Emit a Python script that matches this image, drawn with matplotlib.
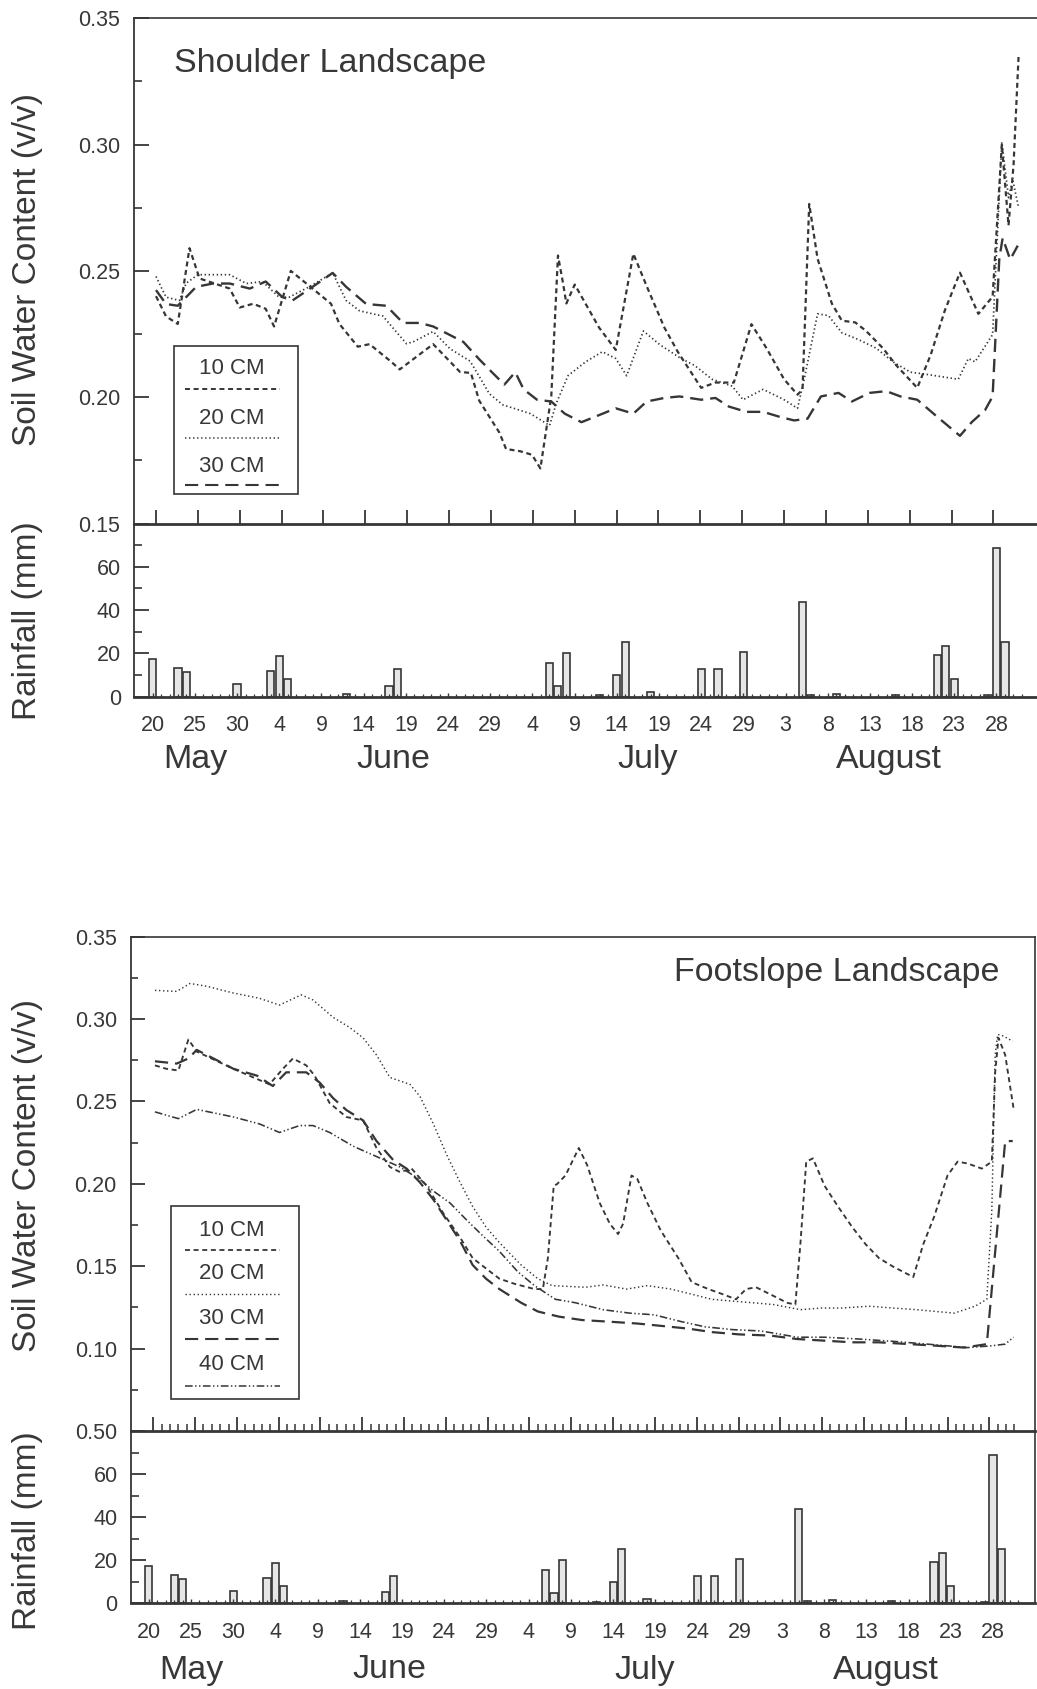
import matplotlib
matplotlib.use('Agg')
import matplotlib.pyplot as plt
import matplotlib.transforms as mtrans
from matplotlib.patches import Rectangle
from matplotlib.lines import Line2D
from matplotlib.ticker import FixedLocator, NullFormatter, FixedFormatter

plt.rcParams['font.family'] = ['Liberation Sans', 'DejaVu Sans']
plt.rcParams['lines.scale_dashes'] = False

# ---------------- data ----------------
# days since May 20
rain_days = [0, 3, 4, 10, 14, 15, 16, 23, 28, 29, 47, 48, 49, 53, 55, 56, 59,
             65, 67, 70, 77, 78, 81, 88, 93, 94, 95, 99, 100, 101]
rain_mm = [17.2, 13.2, 11.2, 5.7, 11.8, 18.8, 8.0, 1.2, 5.1, 12.6, 15.4, 4.9, 20.3,
           0.8, 9.8, 25.4, 2.0, 12.8, 12.8, 20.8, 43.8, 0.9, 1.4, 0.9, 19.2, 23.5,
           8.0, 0.6, 68.8, 25.4]

date_ticks = [0, 5, 10, 15, 20, 25, 30, 35, 40, 45, 50, 55, 60, 65, 70, 75, 80, 85, 90, 95, 100]
date_labels = ['20', '25', '30', '4', '9', '14', '19', '24', '29', '4', '9', '14',
               '19', '24', '29', '3', '8', '13', '18', '23', '28']
month_names = ['May', 'June', 'July', 'August']
month_pos = [5.0, 28.5, 58.7, 87.3]

# Shoulder landscape
sh10_d = [0, 1.2, 2.6, 4.0, 5.2, 8.8, 10, 11.6, 13.1, 14.1, 16.1, 18.7, 20.9, 21.9, 24.1,
          25.5, 28.1, 29.1, 33.1, 36.3, 37.6, 38.6, 41.0, 41.8, 43.5, 44.9, 45.9, 47.2,
          48.0, 48.6, 49.0, 50.0, 52.9, 54.9, 57.0, 58.6, 60.7, 62.3, 65.1, 66.8, 69.0,
          71.1, 72.9, 75.0, 76.6, 77.2, 78.0, 79.0, 80.7, 81.9, 83.5, 84.8, 86.8, 88.4,
          90.9, 92.5, 94.2, 96.0, 98.2, 99.9, 101.0, 101.8, 102.4, 103.0]
sh10_v = [0.240, 0.232, 0.229, 0.259, 0.247, 0.243, 0.2355, 0.237, 0.235, 0.228, 0.250,
          0.243, 0.237, 0.229, 0.220, 0.221, 0.214, 0.211, 0.221, 0.210, 0.2096, 0.1986,
          0.186, 0.1795, 0.1786, 0.1772, 0.1718, 0.2003, 0.2561, 0.2452, 0.2371, 0.2446,
          0.2276, 0.2187, 0.2568, 0.2439, 0.2276, 0.218, 0.2037, 0.2058, 0.2058, 0.2289,
          0.2194, 0.2071, 0.201, 0.203, 0.2765, 0.2548, 0.2371, 0.2303, 0.2296, 0.2262,
          0.2194, 0.2126, 0.2037, 0.2167, 0.2344, 0.2493, 0.233, 0.2398, 0.300, 0.268,
          0.292, 0.335]
sh20_d = [0, 1.2, 2.8, 3.6, 5.0, 8.8, 10.8, 12.7, 14.7, 15.9, 18.3, 21.1, 22.7, 24.3,
          27.1, 28.3, 29.9, 30.7, 33.1, 35.1, 37.5, 38.6, 39.8, 41.4, 44.7, 47.0, 47.8,
          49.2, 51.3, 53.3, 54.9, 56.2, 58.2, 60.2, 62.7, 64.3, 66.4, 68.8, 70.1, 72.5,
          75.0, 76.6, 77.4, 79.0, 80.3, 81.9, 83.9, 86.0, 88.0, 90.1, 91.7, 95.8, 97.0,
          97.8, 99.9, 101.0, 101.8, 102.3, 103.0]
sh20_v = [0.2478, 0.2396, 0.2383, 0.2451, 0.2485, 0.2485, 0.245, 0.2458, 0.2396, 0.2396,
          0.2437, 0.2492, 0.2383, 0.2342, 0.2321, 0.2274, 0.2212, 0.2219, 0.226, 0.2192,
          0.2143, 0.2082, 0.2014, 0.197, 0.1935, 0.1888, 0.1976, 0.2085, 0.214, 0.218,
          0.2153, 0.2085, 0.2262, 0.2207, 0.2153, 0.2126, 0.2071, 0.2044, 0.199, 0.2031,
          0.199, 0.1956, 0.2071, 0.233, 0.2323, 0.2255, 0.2228, 0.2194, 0.214, 0.2099,
          0.2092, 0.2071, 0.2153, 0.214, 0.2248, 0.301, 0.279, 0.286, 0.275]
sh30_d = [0, 1.2, 2.6, 4.8, 6.8, 8.8, 11.2, 13.1, 15.1, 16.3, 18.7, 21.1, 22.7, 25.1,
          27.5, 29.5, 31.5, 33.1, 36.7, 38.6, 40.2, 41.6, 42.9, 43.9, 45.5, 47.2, 48.8,
          50.8, 52.9, 54.9, 57.0, 58.6, 60.7, 62.5, 65.1, 66.8, 68.4, 70.5, 72.5, 74.5,
          76.2, 77.8, 79.4, 81.5, 83.1, 85.2, 87.2, 88.9, 90.9, 93.3, 96.0, 97.4, 99.0,
          99.9, 100.7, 101.1, 102.0, 102.9]
sh30_v = [0.2424, 0.2369, 0.2362, 0.2437, 0.245, 0.245, 0.243, 0.2458, 0.2396, 0.2383,
          0.2437, 0.2492, 0.2437, 0.2369, 0.2362, 0.2294, 0.2294, 0.228, 0.2219, 0.215,
          0.2096, 0.205, 0.2099, 0.2031, 0.199, 0.1983, 0.1935, 0.1901, 0.1929, 0.1956,
          0.1935, 0.1983, 0.1997, 0.2003, 0.199, 0.1997, 0.1963, 0.1942, 0.1942, 0.1922,
          0.1908, 0.1915, 0.2003, 0.2017, 0.1983, 0.2017, 0.2024, 0.2003, 0.199, 0.1922,
          0.1847, 0.1901, 0.1949, 0.2003, 0.255, 0.263, 0.2545, 0.260]

# Footslope landscape
ft10_d = [0.2, 1.6, 3.0, 4.2, 5.2, 9.6, 13.9, 15.5, 16.7, 18.3, 19.3, 21.1, 23.1, 25.1,
          26.7, 28.3, 29.5, 30.9, 32.7, 34.7, 36.7, 38.2, 39.8, 41.4, 43.2, 45.6, 46.6,
          47.2, 47.9, 48.3, 49.3, 50.9, 51.9, 53.4, 54.6, 55.6, 56.2, 57.2, 57.9, 59.1,
          60.7, 62.8, 64.4, 66.4, 68.1, 69.7, 70.9, 72.1, 74.2, 75.8, 76.8, 77.4, 78.1,
          78.9, 80.3, 81.9, 83.6, 85.2, 86.8, 88.5, 90.9, 92.1, 93.4, 95.0, 96.2, 97.4,
          99.1, 100.3, 100.7, 101.1, 101.9, 102.9]
ft10_v = [0.2718, 0.2697, 0.2687, 0.2875, 0.2802, 0.2697, 0.2603, 0.2697, 0.276, 0.2718,
          0.2656, 0.2489, 0.2405, 0.2384, 0.2217, 0.2102, 0.2071, 0.2092, 0.1987, 0.182,
          0.1674, 0.1549, 0.1486, 0.1424, 0.1393, 0.1361, 0.1361, 0.1549, 0.1987, 0.1998,
          0.205, 0.2217, 0.2113, 0.1883, 0.1758, 0.1695, 0.1758, 0.205, 0.2029, 0.1883,
          0.1716, 0.1549, 0.1403, 0.1361, 0.133, 0.1299, 0.1361, 0.1372, 0.1319, 0.1278,
          0.1267, 0.1633, 0.2134, 0.2154, 0.1987, 0.1862, 0.1737, 0.1633, 0.1549, 0.1497,
          0.1434, 0.1633, 0.18, 0.205, 0.2134, 0.2123, 0.2092, 0.2134, 0.2676, 0.2885,
          0.2781, 0.2457]
ft20_d = [0.2, 2.8, 4.4, 6.4, 9.6, 12.7, 15.1, 17.7, 19.1, 21.5, 23.5, 25.1, 26.7, 28.3,
          30.7, 31.9, 33.5, 35.1, 36.7, 38.2, 39.8, 41.4, 44.0, 46.0, 47.7, 51.7, 53.8,
          56.6, 59.1, 61.9, 64.4, 66.8, 69.3, 71.7, 74.2, 77.4, 79.9, 82.3, 85.6, 88.5,
          91.3, 95.8, 98.3, 99.7, 100.3, 100.7, 101.0, 101.7, 102.8]
ft20_v = [0.3173, 0.3167, 0.3215, 0.3198, 0.3157, 0.3125, 0.3084, 0.3146, 0.3115, 0.301,
          0.2948, 0.2885, 0.2781, 0.2645, 0.2603, 0.253, 0.2363, 0.2175, 0.2008, 0.1862,
          0.1737, 0.1643, 0.1507, 0.1424, 0.1382, 0.1372, 0.1386, 0.1361, 0.1382, 0.1361,
          0.133, 0.1299, 0.1288, 0.1278, 0.1267, 0.1236, 0.1246, 0.1246, 0.1257, 0.1246,
          0.1236, 0.1215, 0.1257, 0.1299, 0.1841, 0.2781, 0.2906, 0.2896, 0.2864]
ft30_d = [0.2, 2.8, 4.2, 5.2, 7.2, 9.6, 12.4, 14.3, 15.9, 18.3, 19.9, 21.5, 23.1, 25.1,
          26.7, 28.7, 30.3, 31.9, 33.5, 35.1, 36.7, 38.2, 39.8, 41.4, 44.0, 46.0, 48.5,
          51.3, 54.6, 57.9, 61.1, 64.0, 66.8, 70.1, 73.8, 77.0, 80.3, 83.6, 86.8, 90.5,
          93.8, 97.0, 99.7, 101.9, 102.8]
ft30_v = [0.2743, 0.2729, 0.276, 0.2812, 0.276, 0.2697, 0.2656, 0.2593, 0.2676, 0.2676,
          0.2614, 0.252, 0.2447, 0.2384, 0.2259, 0.2144, 0.2092, 0.2008, 0.1904, 0.1779,
          0.1653, 0.1507, 0.1424, 0.1361, 0.1278, 0.1225, 0.1194, 0.1173, 0.1163, 0.1152,
          0.1136, 0.1121, 0.110, 0.1086, 0.1079, 0.1058, 0.1048, 0.1038, 0.1038, 0.1027,
          0.1017, 0.1006, 0.1027, 0.2259, 0.2259]
ft40_d = [0.2, 3.0, 5.2, 9.6, 12.7, 15.1, 17.5, 19.1, 21.1, 23.9, 26.7, 29.5, 32.1, 33.5,
          35.5, 37.5, 39.4, 41.4, 43.6, 45.6, 48.1, 50.5, 53.8, 57.0, 59.9, 63.2, 66.0,
          69.3, 72.6, 74.2, 77.0, 80.3, 84.4, 88.5, 92.6, 97.4, 100.3, 101.9, 102.9]
ft40_v = [0.2436, 0.2395, 0.2451, 0.2405, 0.2363, 0.2311, 0.2353, 0.2353, 0.2311, 0.2228,
          0.2165, 0.2102, 0.2019, 0.1956, 0.1883, 0.1779, 0.1685, 0.1590, 0.1466, 0.1382,
          0.1299, 0.1278, 0.1236, 0.1215, 0.1205, 0.1163, 0.1132, 0.1115, 0.1107, 0.1094,
          0.1069, 0.1069, 0.1058, 0.1044, 0.1027, 0.1006, 0.1017, 0.1027, 0.1069]

# ---------------- styling ----------------
INK = '#363636'
TXT = '#383838'
W, H = 1037, 1689
fig = plt.figure(figsize=(W / 100, H / 100), dpi=100)


def box(l, t, r, b):
    return [l / W, 1 - b / H, (r - l) / W, (b - t) / H]


def fx(px):
    return px / W


def fy(py):
    return 1 - py / H


ax_s1 = fig.add_axes(box(134.3, 18.3, 1037, 523.5))
ax_r1 = fig.add_axes(box(134.3, 523.5, 1037, 696.7))
ax_s2 = fig.add_axes(box(130.7, 936.5, 1035.3, 1431))
ax_r2 = fig.add_axes(box(130.7, 1431, 1035.3, 1603.3))

ax_s1.set_xlim(-2.59, 105.2)
ax_r1.set_xlim(-2.18, 104.8)
ax_s2.set_xlim(-2.70, 105.5)
ax_r2.set_xlim(-2.14, 105.0)
ax_s1.set_ylim(0.15, 0.35)
ax_s2.set_ylim(0.05, 0.35)
for a in (ax_r1, ax_r2):
    a.set_ylim(0, 80)

ls10 = (0, (3.6, 2.6))
ls20 = (0, (1.0, 1.9))
ls30 = (0, (9.5, 5.0))
ls40 = (0, (5.5, 1.8, 1.0, 1.8, 1.0, 1.8))

# soil lines
ax_s1.plot(sh10_d, sh10_v, color=INK, lw=1.6, linestyle=ls10)
ax_s1.plot(sh20_d, sh20_v, color=INK, lw=1.25, linestyle=ls20)
ax_s1.plot(sh30_d, sh30_v, color=INK, lw=1.7, linestyle=ls30)

ax_s2.plot(ft10_d, ft10_v, color=INK, lw=1.35, linestyle=ls10)
ax_s2.plot(ft20_d, ft20_v, color=INK, lw=1.05, linestyle=ls20)
ax_s2.plot(ft30_d, ft30_v, color=INK, lw=1.6, linestyle=ls30)
ax_s2.plot(ft40_d, ft40_v, color=INK, lw=1.15, linestyle=ls40)

# rainfall bars
for a in (ax_r1, ax_r2):
    a.bar(rain_days, rain_mm, width=0.85, facecolor='#e6e6e6', edgecolor=INK, linewidth=1.2)

# spines
for a in (ax_s1, ax_s2, ax_r1, ax_r2):
    for s in a.spines.values():
        s.set_color(INK)
    a.spines['left'].set_linewidth(1.3)
    a.spines['top'].set_linewidth(1.2)
    a.spines['bottom'].set_linewidth(2.0)
    a.set_facecolor('none')
for a in (ax_r1, ax_r2):
    a.spines['top'].set_visible(False)
ax_s1.spines['right'].set_visible(False)
ax_r1.spines['right'].set_visible(False)
ax_s2.spines['right'].set_linewidth(1.2)
ax_r2.spines['right'].set_linewidth(1.2)

# soil y ticks
ax_s1.yaxis.set_major_locator(FixedLocator([0.15, 0.20, 0.25, 0.30, 0.35]))
ax_s1.yaxis.set_major_formatter(FixedFormatter(['0.15', '0.20', '0.25', '0.30', '0.35']))
ax_s1.yaxis.set_minor_locator(FixedLocator([0.175, 0.225, 0.275, 0.325]))
ax_s2.yaxis.set_major_locator(FixedLocator([0.05, 0.10, 0.15, 0.20, 0.25, 0.30, 0.35]))
ax_s2.yaxis.set_major_formatter(FixedFormatter(['0.50', '0.10', '0.15', '0.20', '0.25', '0.30', '0.35']))
ax_s2.yaxis.set_minor_locator(FixedLocator([0.075, 0.125, 0.175, 0.225, 0.275, 0.325]))

for a, L, l in ((ax_s1, 11, 6), (ax_s2, 10, 5)):
    a.tick_params(axis='y', which='major', direction='in', length=L, width=1.3,
                  color=INK, labelsize=15.5, labelcolor=TXT, pad=10)
    a.tick_params(axis='y', which='minor', direction='in', length=l, width=1.2, color=INK)

# soil x ticks (point up from the boundary)
ax_s1.xaxis.set_major_locator(FixedLocator(date_ticks))
ax_s1.xaxis.set_minor_locator(FixedLocator([]))
ax_s2.xaxis.set_major_locator(FixedLocator(date_ticks))
ax_s2.xaxis.set_minor_locator(FixedLocator(list(range(0, 104))))
for a in (ax_s1, ax_s2):
    a.xaxis.set_major_formatter(NullFormatter())
    a.tick_params(axis='x', which='major', direction='in', length=10, width=1.3, color=INK)
    a.tick_params(axis='x', which='minor', direction='in', length=5, width=1.1, color=INK)

# rain axes ticks
for a in (ax_r1, ax_r2):
    a.yaxis.set_major_locator(FixedLocator([0, 20, 40, 60]))
    a.yaxis.set_minor_locator(FixedLocator([10, 30, 50, 70]))
    a.tick_params(axis='y', which='major', direction='in', length=11, width=1.3,
                  color=INK, labelsize=15.5, labelcolor=TXT, pad=9.5)
    a.tick_params(axis='y', which='minor', direction='in', length=6, width=1.2, color=INK)
    a.xaxis.set_major_locator(FixedLocator(date_ticks))
    a.xaxis.set_major_formatter(FixedFormatter(date_labels))
    a.xaxis.set_minor_locator(FixedLocator(list(range(0, 104))))
    a.tick_params(axis='x', which='major', direction='in', length=3, width=1.0,
                  color=INK, labelsize=15.5, labelcolor=TXT, pad=13.5)
    a.tick_params(axis='x', which='minor', direction='in', length=2, width=0.9, color=INK)

# month labels
for a, ybase in ((ax_r1, 768.5), (ax_r2, 1678.5)):
    trans = mtrans.blended_transform_factory(a.transData, fig.transFigure)
    for name, pos in zip(month_names, month_pos):
        a.text(pos, fy(ybase), name, transform=trans, ha='center', va='baseline',
               fontsize=24.5, color=TXT)

# panel titles
fig.text(fx(173.5), fy(71.6), 'Shoulder Landscape', ha='left', va='baseline',
         fontsize=24.5, color=TXT)
fig.text(fx(999.5), fy(981.0), 'Footslope Landscape', ha='right', va='baseline',
         fontsize=24.5, color=TXT)

# axis labels
for yc, txt in ((270, 'Soil Water Content (v/v)'), (621, 'Rainfall (mm)'),
                (1176, 'Soil Water Content (v/v)'), (1531, 'Rainfall (mm)')):
    fig.text(fx(28), fy(yc), txt, rotation=90, ha='center', va='center',
             fontsize=24, color=TXT)


# legends (drawn manually)
def legend(l, t, r, b, items):
    fig.patches.append(Rectangle((fx(l), fy(b)), fx(r) - fx(l), fy(t) - fy(b),
                                 transform=fig.transFigure, facecolor='white',
                                 edgecolor=INK, linewidth=1.2, zorder=5))
    for label, ty, ly, ls, lw in items:
        fig.text(fx(232), fy(ty), label, ha='center', va='center', fontsize=16,
                 color=TXT, zorder=6)
        fig.lines.append(Line2D([fx(185), fx(280)], [fy(ly), fy(ly)],
                                transform=fig.transFigure, color=INK, lw=lw,
                                linestyle=ls, zorder=6))


legend(174, 346, 297.7, 494,
       [('10 CM', 369, 389, ls10, 1.4), ('20 CM', 418, 438, ls20, 1.1),
        ('30 CM', 466, 485, ls30, 1.5)])
legend(170.7, 1206, 299, 1399.3,
       [('10 CM', 1230, 1249.5, ls10, 1.3), ('20 CM', 1273.6, 1293.6, ls20, 1.0),
        ('30 CM', 1318.4, 1339, ls30, 1.5), ('40 CM', 1365, 1385.5, ls40, 1.1)])

fig.savefig('out.png', dpi=100, facecolor='white')
